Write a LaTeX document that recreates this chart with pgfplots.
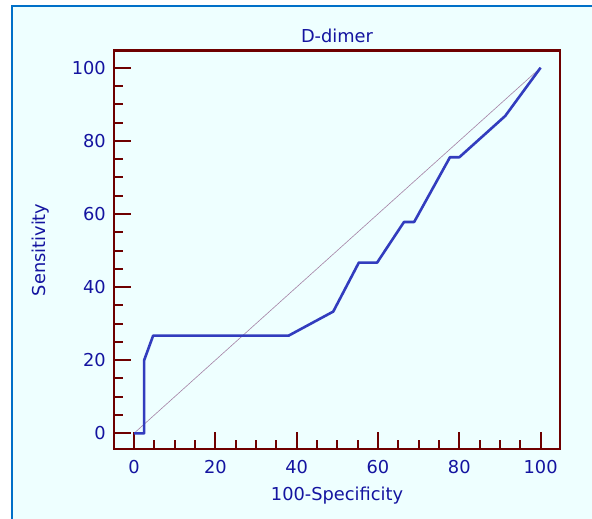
\documentclass[border=0pt]{standalone}
\usepackage{pgfplots}
\pgfplotsset{compat=1.18}
\usepackage{fontspec}
\setmainfont{DejaVu Sans}
\definecolor{bg}{RGB}{238,255,255}
\definecolor{border}{RGB}{0,112,200}
\definecolor{maroon}{RGB}{110,0,0}
\definecolor{txt}{RGB}{20,20,160}
\definecolor{curve}{RGB}{50,60,190}
\definecolor{diag}{RGB}{165,130,165}
\begin{document}
\begin{tikzpicture}
\useasboundingbox (0bp,0bp) rectangle (592bp,519bp);
\fill[white] (0bp,0bp) rectangle (592bp,519bp);
\fill[bg] (13bp,0bp) rectangle (592bp,512bp);
\draw[border, line width=2bp] (12bp,0bp) -- (12bp,513bp) -- (592bp,513bp);
\begin{axis}[
  at={(114bp,70bp)}, anchor=south west,
  scale only axis, width=446bp, height=398.3bp,
  xmin=-4.92, xmax=104.77, ymin=-4.29, ymax=104.65,
  xtick={0,20,...,100}, ytick={0,20,...,100},
  minor tick num=3,
  tick align=inside, tick pos=left,
  major tick length=17bp, minor tick length=9bp,
  every tick/.style={draw=maroon, line width=2bp},
  every major tick/.style={draw=maroon, line width=2bp},
  every minor tick/.style={draw=maroon, line width=2bp},
  axis line style={maroon, line width=2.6bp},
  /pgf/number format/assume math mode=true,
  every tick label/.append style={font=\fontsize{17.8bp}{20bp}\selectfont, text=txt, inner sep=0pt},
  xticklabel style={yshift=-11bp},
  yticklabel style={xshift=-8bp},
  title={D-dimer},
  title style={at={(axis description cs:0.5,1)}, anchor=south, inner sep=0pt, yshift=1.7bp, font=\fontsize{17.8bp}{20bp}\selectfont, text=txt},
  xlabel={100-Specificity},
  xlabel style={at={(axis description cs:0.5,0)}, anchor=north, inner sep=0pt, yshift=-38bp, font=\fontsize{17.8bp}{20bp}\selectfont, text=txt},
  ylabel={Sensitivity},
  ylabel style={at={(axis description cs:-0.185,0.5)}, anchor=north, inner sep=0pt, font=\fontsize{17.8bp}{20bp}\selectfont, text=txt},
]
\addplot[diag, line width=0.6bp] coordinates {(0,0) (100,100)};
\addplot[curve, line width=2.6bp, line join=round] coordinates {
(0,0) (2.5,0) (2.5,20) (4.7,26.7) (38,26.7) (49,33.3) (55.3,46.7) (59.8,46.7)
(66.4,57.8) (68.9,57.8) (77.7,75.5) (80,75.5) (91.3,86.8) (100,100)};
\end{axis}
\end{tikzpicture}
\end{document}
